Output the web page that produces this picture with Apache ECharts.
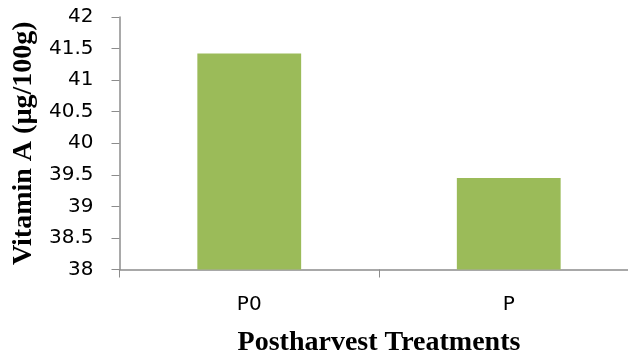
<!DOCTYPE html>
<html><head><meta charset="utf-8">
<script src="https://cdn.jsdelivr.net/npm/echarts@6/dist/echarts.min.js"></script>
<style>html,body{margin:0;padding:0;background:#fff}#c{width:628px;height:360px}</style>
</head><body><div id="c"></div>
<script>
const categories = ['P0', 'P'];
const vitaminA = [41.42, 39.45];
const yTicks = {min: 38, max: 42, interval: 0.5};

const chart = echarts.init(document.getElementById('c'), null, {renderer: 'canvas'});
chart.setOption({
  animation: false,
  grid: {left: 119.5, right: -10.5, top: 17, bottom: 90.5, outerBoundsMode: 'none', containLabel: false},
  xAxis: {
    type: 'category', data: categories,
    axisLine: {lineStyle: {color: '#8c8c8c', width: 1.5}},
    axisTick: {show: true, length: 8, lineStyle: {color: '#8c8c8c'}},
    axisLabel: {color: '#000', fontFamily: 'DejaVu Sans', fontSize: 20, margin: 25},
    name: 'Postharvest Treatments', nameLocation: 'middle', nameGap: 59,
    nameTextStyle: {fontFamily: 'Liberation Serif', fontWeight: 'bold', fontSize: 28, color: '#000'}
  },
  yAxis: {
    type: 'value', min: yTicks.min, max: yTicks.max, interval: yTicks.interval,
    axisLine: {show: true, lineStyle: {color: '#8c8c8c', width: 1.5}},
    axisTick: {show: true, length: 8, lineStyle: {color: '#8c8c8c'}},
    splitLine: {show: false},
    axisLabel: {color: '#000', fontFamily: 'DejaVu Sans', fontSize: 20, margin: 26},
    name: 'Vitamin A (µg/100g)', nameLocation: 'middle', nameGap: 80,
    nameTextStyle: {fontFamily: 'Liberation Serif', fontWeight: 'bold', fontSize: 28, color: '#000'}
  },
  series: [{
    type: 'bar', data: vitaminA, barWidth: '40%',
    itemStyle: {color: '#9bbb59'}
  }]
});
</script></body></html>
